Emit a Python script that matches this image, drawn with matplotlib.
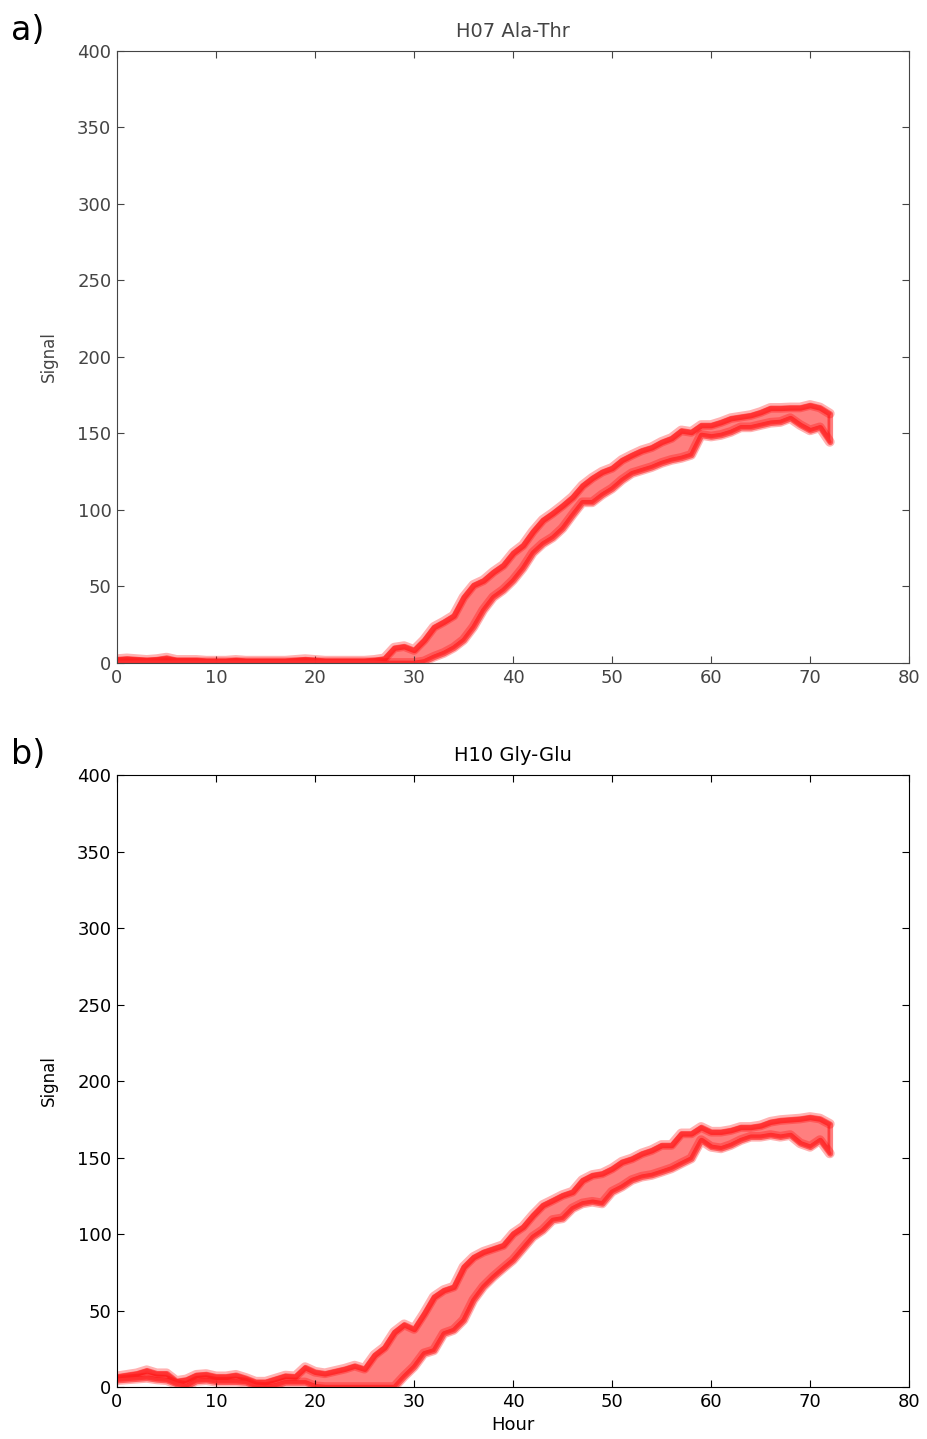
import numpy as np
import matplotlib
matplotlib.use("Agg")
import matplotlib.pyplot as plt

hours = np.arange(0, 73)

# panel a) H07 Ala-Thr
a_upper = [2.5, 3, 2.5, 2, 2.5, 3.5, 2, 2, 2, 1.5, 1.5, 1.5, 2, 1.5, 1.5, 1.5, 1.5, 1.5, 2, 2.5,
           2, 1.5, 1.5, 1.5, 1.5, 1.5, 2, 3, 10, 11, 8.5, 15, 23.5, 27, 31, 43, 51, 54, 59.5, 64,
           72, 77, 86, 93.5, 98, 103, 108.5, 116, 121, 125, 127.5, 132.7, 136, 139, 141, 144.5, 147, 152, 151, 155.5,
           155.5, 157.5, 160, 161, 162, 164, 166.7, 166.7, 167, 167, 168.6, 167, 163]
a_lower = [0.5, 0.5, 0.5, 0.5, 0.5, 0.5, 0.5, 0.5, 0.5, 0.5, 0.5, 0.5, 0.5, 0.5, 0.5, 0.5, 0.5, 0.5, 0.5, 0.5,
           0.5, 0.5, 0.5, 0.5, 0.5, 0.5, 0.5, 0, 0, 0, 0, 1, 4, 6.5, 10, 15, 23.5, 34.6, 43, 47.7,
           54, 62, 72, 78, 82, 88, 96.7, 105, 105, 110, 114, 119.6, 124, 126, 128, 130.7, 132.7, 134, 136, 149,
           148, 149, 151, 154, 154, 155.5, 157, 157.5, 160, 155.5, 152, 154, 144.5]

# panel b) H10 Gly-Glu
b_upper = [7, 8, 9, 11, 9, 9, 4, 5, 8, 8.5, 7, 7, 8, 6, 3.5, 3.5, 5.5, 7.5, 7, 13,
           10, 9, 10.5, 12, 14, 12, 21, 26, 36, 41, 38, 48, 59, 63.4, 65.6, 78.6, 85, 88.4, 90.6, 92.8,
           100.4, 104.8, 112.4, 119, 122.2, 125.5, 127.7, 135.3, 138.6, 139.7, 142.9, 147.3, 149.4, 152.7, 154.9, 158.2, 158.2, 165.8, 165.8, 170,
           166.9, 166.9, 168, 170, 170, 171, 173.4, 174.5, 175, 175.5, 176.5, 175.5, 172]
b_lower = [4.5, 5, 5.5, 6, 5, 4.5, 2, 0.5, 4, 4.5, 3.5, 3.5, 3.5, 3, 0.5, 0, 1, 3, 3, 3,
           0.5, 0, 0, 0, 0, 0, 0, 0, 0, 7, 13.3, 22, 24, 35, 37.3, 43.8, 56.9, 65.6, 72, 77.6,
           83, 90.6, 98.2, 102.6, 109.2, 110.3, 116.8, 120, 121.1, 120, 127.7, 131, 135.3, 137.5, 138.6, 140.7, 142.9, 146.2, 149.4, 161.4,
           157, 156, 158.2, 161.4, 163.6, 163.6, 164.7, 163.6, 164.7, 159.3, 157, 161.4, 152.7]

panels = [
    ("a)", "H07 Ala-Thr", a_upper, a_lower, "#444444", [0.1262, 0.5393, 0.8544, 0.4253], False),
    ("b)", "H10 Gly-Glu", b_upper, b_lower, "black", [0.1262, 0.0361, 0.8544, 0.4253], True),
]

fig = plt.figure(figsize=(9.27, 14.39), dpi=100)

for letter, title, upper, lower, col, rect, show_xlabel in panels:
    ax = fig.add_axes(rect)
    ax.fill_between(hours, lower, upper, facecolor="red", edgecolor="red", alpha=0.5, lw=4)
    for series in (upper, lower):
        ax.plot(hours, series, color="red", lw=7, alpha=0.3, solid_capstyle="round")
        ax.plot(hours, series, color="#ff3030", lw=2.5, alpha=0.9, solid_capstyle="round")
    ax.set_xlim(0, 80)
    ax.set_ylim(0, 400)
    ax.set_xticks(range(0, 81, 10))
    ax.set_yticks(range(0, 401, 50))
    ax.tick_params(direction="in", top=True, right=True, length=5, labelsize=13,
                   colors=col, pad=4)
    for s in ax.spines.values():
        s.set_color(col)
    ax.set_title(title, fontsize=14, color=col, pad=10)
    ax.set_ylabel("Signal", fontsize=12, color=col, labelpad=14)
    if show_xlabel:
        ax.set_xlabel("Hour", fontsize=13, color=col, labelpad=4)
    top = rect[1] + rect[3]
    fig.text(0.012, top + 0.003, letter, fontsize=24, va="bottom", ha="left")

fig.savefig("out.png", dpi=100)
